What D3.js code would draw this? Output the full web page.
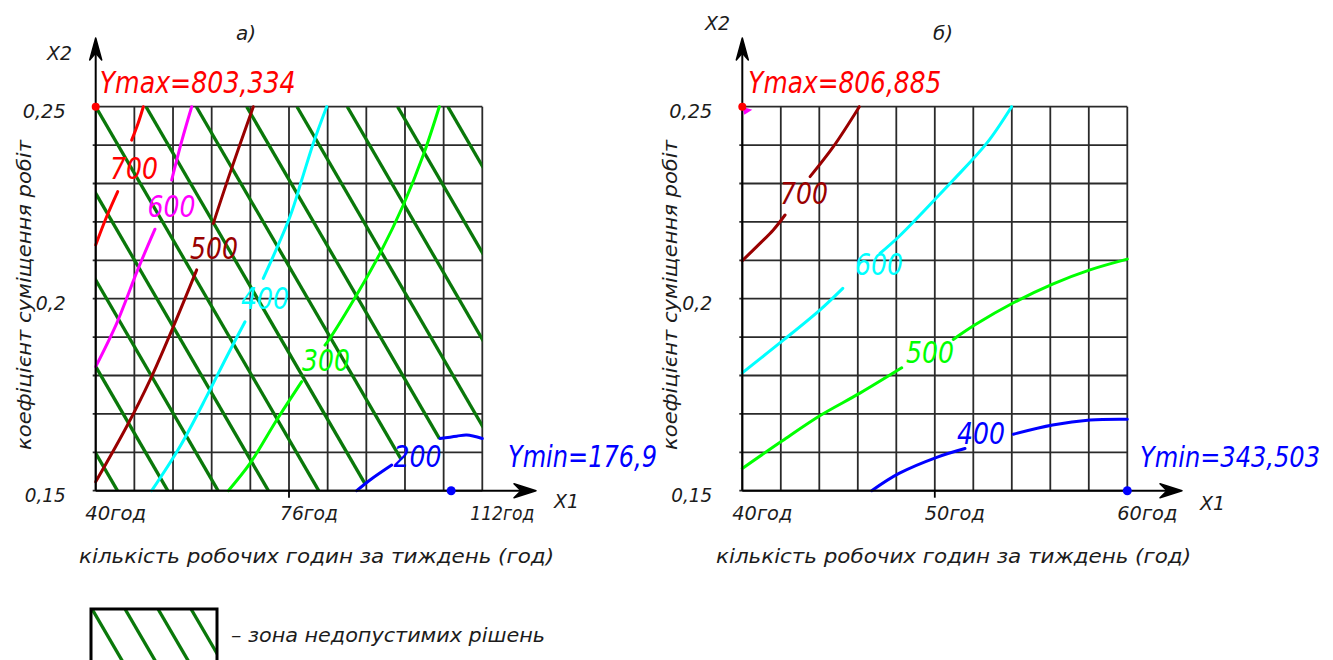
<!DOCTYPE html>
<html><head><meta charset="utf-8">
<script src="https://cdn.jsdelivr.net/npm/d3@7/dist/d3.min.js"></script>
<style>
html,body{margin:0;padding:0;background:#fff;}
text{font-family:"DejaVu Sans Condensed","DejaVu Sans",sans-serif;font-style:italic;}
</style></head>
<body><svg id="c" width="1333" height="660"></svg>
<script>
// ---------- data ----------
const panelTitles = ["а)", "б)"];
const yTicks = [0.25, 0.2, 0.15];
const yTickLabels = ["0,25", "0,2", "0,15"];
const xTicksA = [40, 76, 112];
const xTickLabelsA = ["40год", "76год", "112год"];
const xTicksB = [40, 50, 60];
const xTickLabelsB = ["40год", "50год", "60год"];
const yAxisTitle = "коефіцієнт суміщення робіт";
const xAxisTitle = "кількість робочих годин за тиждень (год)";
const legendText = "– зона недопустимих рішень";

// panel а) contours: pieces of [X1, X2]
const a700 = [[[48.87,0.25],[47.9,0.2457],[46.70,0.2413]], [[44.10,0.2279],[42.05,0.2214],[40,0.2140]]];
const a600 = [[[57.88,0.25],[56.07,0.2413],[54.15,0.2309]], [[51.04,0.2181],[47.93,0.2079],[43.91,0.1936],[40,0.1823]]];
const a500 = [[[69.35,0.25],[65.01,0.2327],[61.90,0.2196]], [[58.81,0.2075],[54.45,0.1927],[50.11,0.1788],[45.77,0.1667],[40,0.1523]]];
const a400 = [[[83.02,0.25],[80.53,0.2405],[78.37,0.2309],[76.19,0.2214],[71.21,0.2053]], [[67.81,0.1940],[64.40,0.1849],[60.97,0.1754],[55.70,0.1615],[50.43,0.15]]];
const a300 = [[[103.99,0.25],[101.01,0.2374],[97.29,0.2244],[92.95,0.2118],[88.61,0.2010],[83.64,0.1897],[82.71,0.1879]], [[78.37,0.1784],[73.71,0.1684],[68.74,0.1571],[64.70,0.15]]];
const a200 = [[[88.61,0.15],[91.09,0.1528],[95.13,0.1567]], [[104.12,0.1636],[107.23,0.1642],[109.10,0.1645],[112,0.1636]]];
const labelsA = [[700,47.14,0.2340],[600,54.12,0.2241],[500,62.03,0.2132],[400,71.53,0.2002],[300,82.89,0.1840],[200,99.93,0.1590]];
const extremaA = [[40,0.25,"Ymax=803,334"],[106.2,0.15,"Ymin=176,9"]];

// panel б) contours
const b700 = [[[46.08,0.25],[44.73,0.2396],[43.52,0.2318]], [[42.22,0.2218],[41.61,0.2179],[40.92,0.2144],[40,0.2099]]];
const b600 = [[[53.99,0.25],[52.70,0.2405],[50.96,0.2309],[50.15,0.2266],[48.14,0.2162],[47.15,0.2118]], [[45.22,0.2027],[44.04,0.1971],[42.13,0.1892],[40,0.1807]]];
const b500 = [[[60,0.2103],[58.06,0.2075],[56.12,0.2038],[54.11,0.1990],[52.09,0.1932],[50.96,0.1894]], [[48.28,0.1820],[46.11,0.1754],[44.09,0.1697],[42.08,0.1630],[40,0.1558]]];
const b400 = [[[60,0.1686],[58.06,0.1684],[56.12,0.1671],[54.08,0.1647]], [[51.57,0.1610],[50.10,0.1587],[48.14,0.1545],[46.72,0.15]]];
const labelsB = [[700,43.21,0.2275],[600,47.10,0.2090],[500,49.75,0.1860],[400,52.40,0.1650]];
const extremaB = [[40,0.25,"Ymax=806,885"],[60,0.15,"Ymin=343,503"]];

// hatch of the infeasible zone (panel а): lines spaced along X1 at top edge, dropping over hatchRun hours
const hatchStep = 9.37;
const hatchRun = 41.53;

// ---------- drawing ----------
const svg = d3.select("#c");
const yS = d3.scaleLinear([0.15, 0.25], [490.7, 106.7]);
const xA = d3.scaleLinear([40, 112], [95.7, 482.3]);
const xB = d3.scaleLinear([40, 60], [742.3, 1127.3]);
const TXT = "#1c1c1c";

const colA = {700:"#ff0000",600:"#ff00ff",500:"#990000",400:"#00ffff",300:"#00ff00",200:"#0000ff"};
const colB = {700:"#990000",600:"#00ffff",500:"#00ff00",400:"#0000ff"};

function txt(g, s, x, y, size, fill, len, anchor, rot){
  const t = g.append("text").attr("x", x).attr("y", y).attr("font-size", size)
    .attr("fill", fill).text(s);
  if (anchor) t.attr("text-anchor", anchor);
  if (len) t.attr("textLength", len).attr("lengthAdjust", "spacingAndGlyphs");
  if (rot) t.attr("transform", `rotate(${rot},${x},${y})`);
  return t;
}

function arrow(g, tx, ty, dir){
  const p = dir === "r"
    ? `M${tx},${ty} L${tx-22},${ty-7} L${tx-15},${ty} L${tx-22},${ty+7} Z`
    : `M${tx},${ty} L${tx-6},${ty+22} L${tx},${ty+15} L${tx+6},${ty+22} Z`;
  g.append("path").attr("d", p).attr("fill", "#000").attr("stroke", "#000").attr("stroke-width", 1.5).attr("stroke-linejoin","round");
}

function panel(x, nx, cfg){
  const g = svg.append("g");
  const [x0, x1] = x.domain();
  const xs = d3.range(nx + 1).map(i => x0 + (x1 - x0) * i / nx);
  const ys = d3.range(11).map(i => 0.15 + i * 0.01);
  const gg = g.append("g").attr("stroke", "#2a2a2a").attr("stroke-width", 1.8);
  xs.forEach(v => gg.append("line").attr("x1", x(v)).attr("x2", x(v)).attr("y1", yS(0.25)).attr("y2", yS(0.15)));
  ys.forEach(v => gg.append("line").attr("x1", x(x0) - 3).attr("x2", x(x1)).attr("y1", yS(v)).attr("y2", yS(v)));
  const mid = cfg.xTicks[1];
  g.append("line").attr("x1", x(mid)).attr("x2", x(mid)).attr("y1", yS(0.15)).attr("y2", yS(0.15) + 7).attr("stroke", "#000").attr("stroke-width", 1.8);

  if (cfg.hatch) cfg.hatch(g);

  const line = d3.line().x(d => x(d[0])).y(d => yS(d[1])).curve(d3.curveCatmullRom);
  cfg.contours.forEach(([lvl, pieces]) => {
    pieces.forEach(p => g.append("path").attr("d", line(p)).attr("fill", "none")
      .attr("stroke", cfg.colors[lvl]).attr("stroke-width", 3).attr("stroke-linecap", "round"));
  });
  cfg.labels.forEach(([lvl, lx, ly]) => {
    txt(g, String(lvl), x(lx), yS(ly) + 11, 31, cfg.colors[lvl], 48, "middle");
  });

  const ax = g.append("g").attr("stroke", "#000").attr("stroke-width", 2);
  ax.append("line").attr("x1", x(x0)).attr("x2", cfg.arrowX - 12).attr("y1", yS(0.15)).attr("y2", yS(0.15));
  ax.append("line").attr("x1", x(x0)).attr("x2", x(x0)).attr("y1", yS(0.15)).attr("y2", 50);
  arrow(g, cfg.arrowX, yS(0.15), "r");
  arrow(g, x(x0), 38, "u");

  const [mx, my, mt] = cfg.extrema[0];
  const [nxv, nyv, nt] = cfg.extrema[1];
  if (cfg.magentaMark) g.append("path").attr("d", `M${x(mx)},${yS(my)} L${x(mx)+10},${yS(my)+3} L${x(mx)+2},${yS(my)+8} Z`).attr("fill", "#ff00ff");
  g.append("circle").attr("cx", x(mx)).attr("cy", yS(my)).attr("r", 4).attr("fill", "#ff0000");
  g.append("circle").attr("cx", x(nxv)).attr("cy", yS(nyv)).attr("r", 4.5).attr("fill", "#0000ff");
  txt(g, mt, x(x0) + cfg.ymaxDx, 93, 30, "#ff0000", cfg.ymaxLen);
  txt(g, nt, cfg.yminX, 467, cfg.yminSize, "#0000ff", cfg.yminLen);

  yTicks.forEach((v, i) => txt(g, yTickLabels[i], x(x0) - 30, yS(v) + 11, 19, TXT, [43, 30, 41][i], "end"));
  cfg.xTicks.forEach((v, i) => txt(g, cfg.xTickLabels[i], x(v) + 20, 520, 19, TXT, cfg.xLabLen[i], "middle"));
  txt(g, "X1", cfg.arrowX + 18, cfg.x1Y, 20, TXT, 25);
  txt(g, "X2", cfg.x2X, cfg.x2Y, 20, TXT, 25);
  txt(g, cfg.title, cfg.titleX, 40, 20, TXT, 20, "middle");
  txt(g, xAxisTitle, cfg.xtX, 563, 20, TXT, 475);
  txt(g, yAxisTitle, cfg.ytX, 450, 20, TXT, 310, null, -90);
  return g;
}

function hatchA(g){
  const b1 = a200[0], b2 = a200[1];
  const poly = [[40,0.25],[112,0.25]].concat(b2.slice().reverse(), b1.slice().reverse(), [[40,0.15]]);
  const defs = svg.append("defs");
  defs.append("clipPath").attr("id", "clipA").append("path")
    .attr("d", "M" + poly.map(d => [xA(d[0]), yS(d[1])].join(",")).join("L") + "Z");
  const hg = g.append("g").attr("clip-path", "url(#clipA)").attr("stroke", "#0a780a").attr("stroke-width", 3.3);
  d3.range(-6, 9).forEach(k => {
    const xt = 40 + k * hatchStep;
    hg.append("line").attr("x1", xA(xt)).attr("y1", yS(0.25)).attr("x2", xA(xt + hatchRun)).attr("y2", yS(0.15));
  });
}

panel(xA, 10, {
  xTicks: xTicksA, xTickLabels: xTickLabelsA, xLabLen: [61, 58, 64],
  contours: [[700,a700],[600,a600],[500,a500],[400,a400],[300,a300],[200,a200]],
  labels: labelsA, colors: colA, extrema: extremaA, hatch: hatchA,
  arrowX: 536, x1Y: 508, x2X: 47, x2Y: 60, title: panelTitles[0], titleX: 246,
  ymaxDx: 4, ymaxLen: 196, yminX: 508, yminLen: 149, yminSize: 30, xtX: 79, ytX: 31
});
panel(xB, 10, {
  xTicks: xTicksB, xTickLabels: xTickLabelsB, xLabLen: [60, 60, 60],
  contours: [[700,b700],[600,b600],[500,b500],[400,b400]],
  labels: labelsB, colors: colB, extrema: extremaB, magentaMark: true,
  arrowX: 1182, x1Y: 510, x2X: 705, x2Y: 30, title: panelTitles[1], titleX: 943,
  ymaxDx: 6, ymaxLen: 193, yminX: 1140, yminLen: 180, yminSize: 28, xtX: 716, ytX: 677
});

const lg = svg.append("g");
const lx0 = 91, lx1 = 217, ly0 = 609, ly1 = 700;
svg.select("defs").append("clipPath").attr("id", "clipL").append("rect")
  .attr("x", lx0).attr("y", ly0).attr("width", lx1 - lx0).attr("height", ly1 - ly0);
const lh = lg.append("g").attr("clip-path", "url(#clipL)").attr("stroke", "#0a780a").attr("stroke-width", 3.3);
d3.range(0, 5).forEach(k => {
  const xt = 92 + k * 33;
  lh.append("line").attr("x1", xt).attr("y1", ly0).attr("x2", xt + 70).attr("y2", ly0 + 120);
});
lg.append("rect").attr("x", lx0).attr("y", ly0).attr("width", lx1 - lx0).attr("height", ly1 - ly0)
  .attr("fill", "none").attr("stroke", "#000").attr("stroke-width", 3);
txt(lg, legendText, 231, 642, 20, TXT, 314);
</script></body></html>
